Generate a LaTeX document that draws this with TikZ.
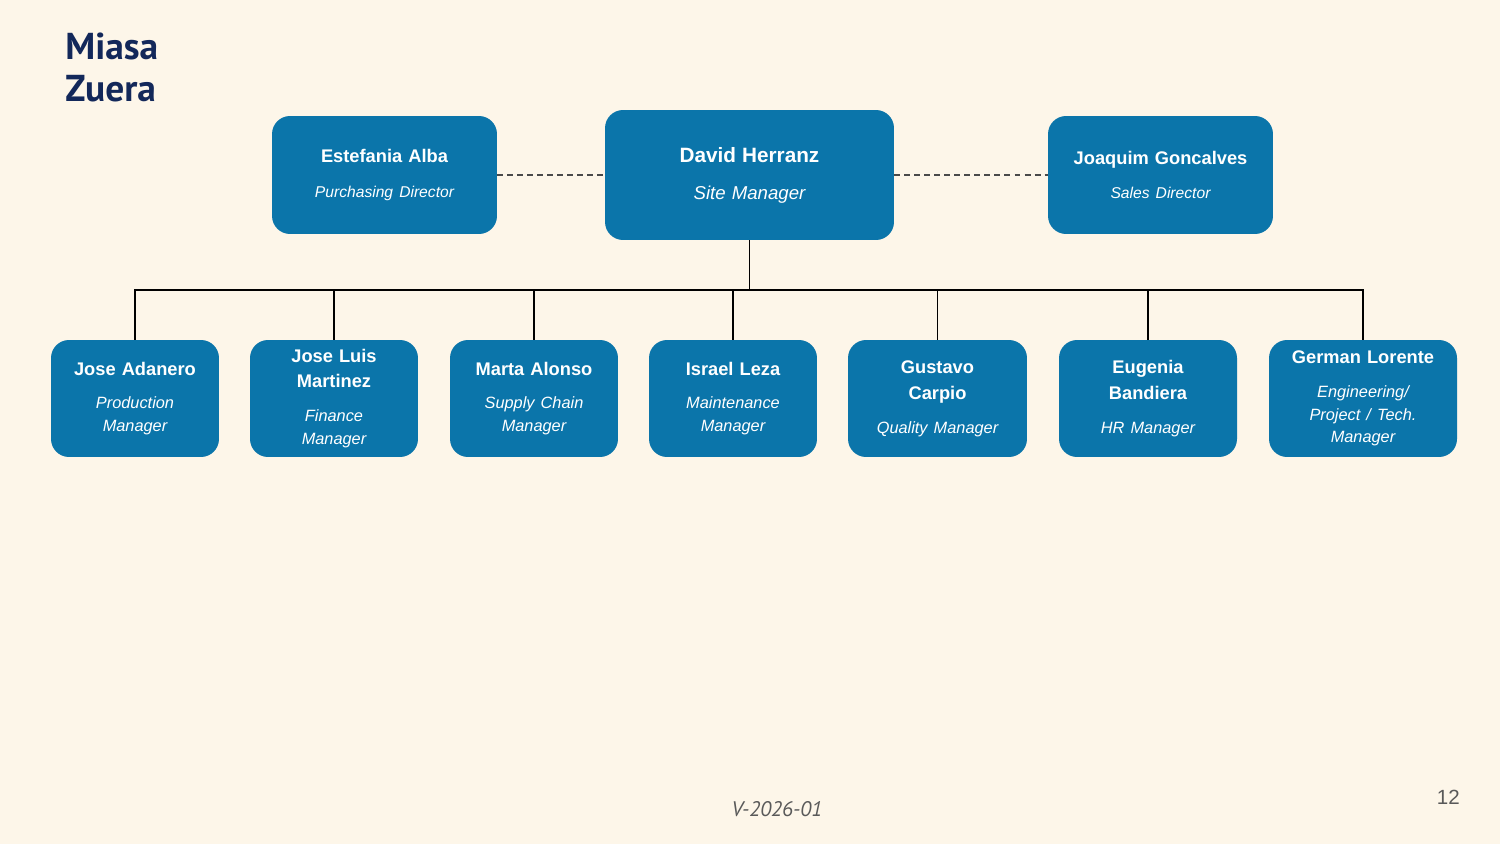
\documentclass[tikz,border=0pt]{standalone}
\usepackage{fontspec}
\setmainfont{Liberation Sans}
\newfontfamily\titlefont{PT Sans}
\usetikzlibrary{shapes,arrows}
\definecolor{paper}{HTML}{FDF6E9}
\definecolor{boxblue}{HTML}{0B75AA}
\definecolor{titlenavy}{HTML}{13285A}
\definecolor{linegray}{HTML}{4A4A4A}
\definecolor{footgray}{HTML}{595959}
\tikzstyle{block} = [rectangle, fill=boxblue, text=white, rounded corners=0.36cm,
    inner sep=0pt, align=center, minimum width=3.36cm, minimum height=2.34cm,
    text width=3.1cm, font=\fontsize{10.4}{13}\selectfont]
\tikzstyle{head} = [block, minimum width=4.5cm, minimum height=2.36cm, text width=4.2cm]
\tikzstyle{boss} = [block, minimum width=5.78cm, minimum height=2.6cm, text width=5.4cm]
\tikzstyle{line} = [draw, line width=0.7pt]
\tikzstyle{thick line} = [draw, line width=1.1pt]
\tikzstyle{dashline} = [draw, linegray, line width=0.9pt, dash pattern=on 3.4pt off 2.3pt]
\newcommand{\role}{\itshape\fontsize{9.3}{13}\selectfont}

\begin{document}
\begin{tikzpicture}[x=0.02cm, y=-0.02cm]

	\fill [paper] (0,0) rectangle (1500,844);
	\useasboundingbox (0,0) rectangle (1500,844);

	\node [anchor=north west, inner sep=0pt, align=left, text=titlenavy,
	       font=\titlefont\bfseries\fontsize{21.3}{23.8}\selectfont] (title) at (65,33) {Miasa\\Zuera};

	% top row
	\node [boss] (site) at (749.5,175) {{\fontsize{11.8}{14}\selectfont\bfseries David Herranz}\\[8pt]{\itshape\fontsize{10.6}{13}\selectfont Site Manager}};
	\node [head] (purchasing) at (384.5,175) {{\bfseries Estefania Alba}\\[6.8pt]{\itshape\fontsize{8.9}{13}\selectfont Purchasing Director}};
	\node [head] (sales) at (1160.5,175) {{\bfseries Joaquim Goncalves}\\[6.8pt]{\itshape\fontsize{8.9}{13}\selectfont Sales Director}};

	\path [dashline] (purchasing) -- (site);
	\path [dashline] (site) -- (sales);

	% managers
	\node [block] (production) at (135,398.5) {{\bfseries Jose Adanero}\\[6.3pt]{\role Production\\Manager}};
	\node [block] (finance) at (334,398.5) {{\bfseries Jose Luis\\[1.7pt]Martinez}\\[6.3pt]{\role Finance\\Manager}};
	\node [block] (supply) at (534,398.5) {{\bfseries Marta Alonso}\\[6.3pt]{\role Supply Chain\\Manager}};
	\node [block] (maintenance) at (733,398.5) {{\bfseries Israel Leza}\\[6.3pt]{\role Maintenance\\Manager}};
	\node [block, minimum width=3.58cm, text width=3.3cm] (quality) at (937.5,398.5) {{\bfseries Gustavo\\[1.7pt]Carpio}\\[6.3pt]{\role Quality Manager}};
	\node [block, minimum width=3.56cm, text width=3.3cm] (hr) at (1148,398.5) {{\bfseries Eugenia\\[1.7pt]Bandiera}\\[6.3pt]{\role HR Manager}};
	\node [block, minimum width=3.76cm, text width=3.5cm] (engineering) at (1363,398.5) {{\bfseries German Lorente}\\[6.3pt]{\role Engineering/\\Project / Tech.\\Manager}};

	\coordinate (split) at (749.5,290);
	\path [thick line] (site) -- (split);
	\path [line] (split) -| (production);
	\path [thick line] (split) -| (finance);
	\path [thick line] (split) -| (supply);
	\path [line] (split) -| (maintenance);
	\path [line] (split) -| (quality);
	\path [line] (split) -| (hr);
	\path [line] (split) -| (engineering);

	% footer
	\node [anchor=base, text=footgray, font=\titlefont\itshape\fontsize{12}{14}\selectfont] (version) at (777,816) {V-2026-01};
	\node [anchor=base east, text=footgray, font=\fontsize{11.7}{14}\selectfont] (page) at (1466,804) {12};

\end{tikzpicture}
\end{document}
